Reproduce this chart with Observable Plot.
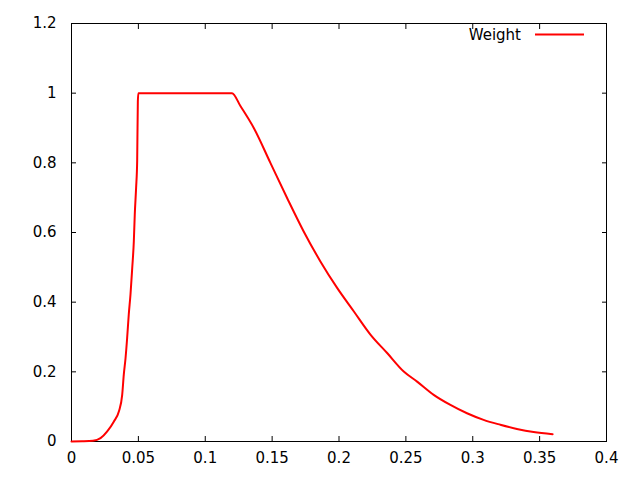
<!DOCTYPE html>
<html>
<head>
<meta charset="utf-8">
<script src="https://cdn.jsdelivr.net/npm/d3@7"></script>
<script src="https://cdn.jsdelivr.net/npm/@observablehq/plot@0.6"></script>
<style>
  html, body { margin: 0; padding: 0; background: #fff; }
  svg { display: block; }
</style>
</head>
<body>
<div id="chart"></div>
<script>
// Data
const xs = [0, 0.008, 0.016, 0.0217, 0.0267, 0.0316, 0.0354, 0.0379, 0.0391, 0.0404, 0.0416, 0.0428, 0.0441, 0.0454, 0.0466, 0.0473, 0.0483, 0.0491, 0.0496, 0.0500,
            0.120, 0.1263, 0.1363, 0.1487, 0.1612, 0.1736, 0.1861, 0.1986, 0.211, 0.2235, 0.236, 0.2484, 0.2584, 0.2708, 0.2833, 0.2957, 0.3081, 0.3206, 0.333, 0.3455, 0.3597];
const weights = [0, 0.0005, 0.002, 0.0095, 0.029, 0.057, 0.086, 0.134, 0.192, 0.239, 0.297, 0.364, 0.422, 0.498, 0.575, 0.651, 0.728, 0.805, 0.977, 1.0,
            1.0, 0.963, 0.900, 0.800, 0.699, 0.603, 0.517, 0.441, 0.374, 0.307, 0.254, 0.201, 0.172, 0.134, 0.105, 0.081, 0.062, 0.048, 0.036, 0.027, 0.021];
const xTicks = [0, 0.05, 0.1, 0.15, 0.2, 0.25, 0.3, 0.35, 0.4];
const yTicks = [0, 0.2, 0.4, 0.6, 0.8, 1, 1.2];
const seriesName = "Weight";
const lineColor = "#ff0000";

const data = xs.map((x, i) => ({x, y: weights[i]}));
const fmt = d => String(+d.toFixed(2));

const legend = (index, scales, values, dims) => {
  const g = d3.create("svg:g");
  const right = dims.width - dims.marginRight;
  const top = dims.marginTop;
  g.append("text")
    .attr("x", right - 85).attr("y", top + 12)
    .attr("text-anchor", "end").attr("dominant-baseline", "middle")
    .attr("font-family", "DejaVu Sans").attr("font-size", 15)
    .attr("fill", "#000")
    .text(seriesName);
  g.append("line")
    .attr("x1", right - 71).attr("x2", right - 22)
    .attr("y1", top + 11.5).attr("y2", top + 11.5)
    .attr("stroke", lineColor).attr("stroke-width", 2);
  return g.node();
};

const chart = Plot.plot({
  width: 640,
  height: 480,
  marginLeft: 71,
  marginRight: 34,
  marginTop: 23,
  marginBottom: 39,
  style: {fontFamily: "DejaVu Sans", fontSize: "15px", background: "#fff", color: "#000"},
  x: {domain: [0, 0.4]},
  y: {domain: [0, 1.2]},
  marks: [
    Plot.frame({stroke: "#000", strokeWidth: 1}),
    Plot.axisX(xTicks, {anchor: "bottom", tickSize: 0, tickPadding: 11, tickFormat: fmt, label: null, fontSize: 15}),
    Plot.axisY(yTicks, {anchor: "left", tickSize: 0, tickPadding: 15, tickFormat: fmt, label: null, fontSize: 15}),
    Plot.axisX(xTicks, {anchor: "bottom", tickSize: 5, dy: -5, text: null, label: null}),
    Plot.axisX(xTicks, {anchor: "top", tickSize: 5, dy: 5, text: null, label: null}),
    Plot.axisY(yTicks, {anchor: "left", tickSize: 5, dx: 5, text: null, label: null}),
    Plot.axisY(yTicks, {anchor: "right", tickSize: 5, dx: -5, text: null, label: null}),
    Plot.line(data, {x: "x", y: "y", stroke: lineColor, strokeWidth: 2, curve: "monotone-x"}),
    legend
  ]
});
document.getElementById("chart").appendChild(chart);
</script>
</body>
</html>
